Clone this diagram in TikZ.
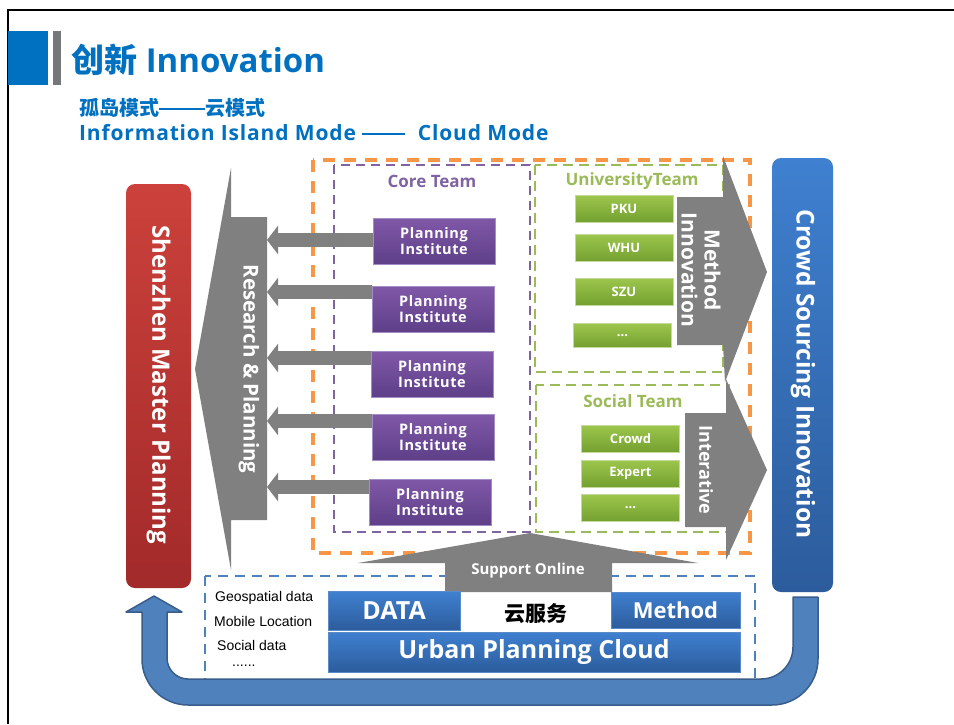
\documentclass[tikz,border=0pt]{standalone}
\usepackage{fontspec}
\setmainfont{Open Sans}
\newfontfamily\cjk{Noto Sans CJK SC}
\newfontfamily\arial{Liberation Sans}
\usetikzlibrary{arrows.meta,calc,shadings}
\definecolor{tblue}{HTML}{0070C0}
\definecolor{tgray}{HTML}{75787B}
\definecolor{redtop}{HTML}{CC413B}
\definecolor{redbot}{HTML}{A22A2A}
\definecolor{ptop}{HTML}{8058A8}
\definecolor{pbot}{HTML}{5E3F88}
\definecolor{pedge}{HTML}{A48CC4}
\definecolor{gtop}{HTML}{9CC64C}
\definecolor{gbot}{HTML}{74A030}
\definecolor{gedge}{HTML}{C4D99B}
\definecolor{btop}{HTML}{3F80D0}
\definecolor{bbot}{HTML}{2C5C9C}
\definecolor{bedge}{HTML}{5A8AC8}
\definecolor{arrgray}{HTML}{808080}
\definecolor{ufill}{HTML}{4F81BD}
\definecolor{uedge}{HTML}{385D8A}
\definecolor{orangeD}{HTML}{F79646}
\definecolor{greenD}{HTML}{9BBB59}
\definecolor{purpleD}{HTML}{8064A2}
\definecolor{blueD}{HTML}{4F81BD}
\newcommand{\longdash}[1]{\rule[0.28em]{#1}{2.2pt}}
\tikzset{
  pibox/.style={rectangle, minimum width=122pt, minimum height=46pt, inner sep=0pt,
    top color=ptop, bottom color=pbot, draw=pedge, line width=1pt, text=white,
    align=center, font=\bfseries\fontsize{14.5}{17}\selectfont\addfontfeature{LetterSpace=4}},
  gbtn/.style={rectangle, minimum width=98pt, minimum height=27pt, inner sep=0pt,
    top color=gtop, bottom color=gbot, draw=gedge, line width=1pt, text=white,
    font=\bfseries\fontsize{13}{15}\selectfont},
  bbox/.style={rectangle, inner sep=0pt, top color=btop, bottom color=bbot,
    draw=bedge, line width=1pt, text=white},
  grayshape/.style={fill=arrgray, draw=none},
  piarrow/.style={draw=arrgray, line width=14.5pt, -{Triangle[width=28pt,length=11pt]}},
  teamlbl/.style={font=\bfseries\fontsize{17}{19}\selectfont},
  datalbl/.style={anchor=west, font=\arial\fontsize{14}{16}\selectfont, inner sep=0pt},
  whitebig/.style={text=white, font=\bfseries\fontsize{22}{26}\selectfont, inner sep=0pt},
}
\begin{document}
\begin{tikzpicture}[x=1pt,y=-1pt]
\useasboundingbox (0,0) rectangle (954,724);
\fill[white] (0,0) rectangle (954,724);
% frame
\draw[line width=2pt, black] (8,724) -- (8,10) -- (954,10);
% header
\fill[tblue] (8,31) rectangle (48,85);
\fill[tgray] (53,31) rectangle (61,85);
\node[anchor=west, text=tblue, inner sep=0pt, font=\bfseries\fontsize{33}{36}\selectfont] (title) at (71,60) {{\cjk\bfseries 创新} Innovation};
\node[anchor=west, text=tblue, inner sep=0pt, font=\cjk\bfseries\fontsize{20}{22}\selectfont] (sub1) at (79,108) {孤岛模式\longdash{46pt}云模式};
\node[anchor=west, text=tblue, inner sep=0pt, font=\bfseries\fontsize{21}{23}\selectfont\addfontfeature{LetterSpace=4}] (sub2) at (79,133) {Information Island Mode \longdash{43pt}\ \ Cloud Mode};

% dashed boxes
\draw[orangeD, line width=3.5pt, dash pattern=on 12pt off 9pt] (313,160) rectangle (750,553);
\draw[purpleD, line width=2.5pt, dash pattern=on 9pt off 6pt] (334,165) rectangle (530,532);
\draw[greenD, line width=2.5pt, dash pattern=on 10pt off 6pt] (535,165) rectangle (723,372);
\draw[greenD, line width=2.5pt, dash pattern=on 10pt off 6pt] (536,385) rectangle (729,532);
\node[teamlbl, text=purpleD] (core) at (432,181) {Core Team};
\node[teamlbl, text=greenD] (uni) at (632,181) {UniversityTeam};
\node[teamlbl, text=greenD] (soc) at (633,401) {Social Team};

% red box
\node[rectangle, rounded corners=9pt, top color=redtop, bottom color=redbot, draw=none,
  minimum width=65pt, minimum height=404pt, inner sep=0pt] (szmp) at (158.5,386) {};
\node[rotate=-90, whitebig, font=\bfseries\fontsize{24}{26}\selectfont] (szmpt) at (158.5,385) {Shenzhen Master Planning};

% blue box
\node[rectangle, rounded corners=9pt, top color=btop, bottom color=bbot, draw=none,
  minimum width=61pt, minimum height=434pt, inner sep=0pt] (csi) at (802.5,375) {};
\node[rotate=-90, whitebig, font=\bfseries\fontsize{24.5}{26}\selectfont] (csit) at (803,374) {Crowd Sourcing Innovation};

% research arrow
\fill[grayshape] (231,168) -- (231,217) -- (267,217) -- (267,520) -- (231,520) -- (231,570) -- (195,369) -- cycle;
\node[rotate=-90, text=white, inner sep=0pt, font=\bfseries\fontsize{20.5}{22}\selectfont] (rp) at (249,369) {Research \& Planning};

% planning institute boxes
\node[pibox] (pi1) at (434,241) {Planning\\[-1pt]Institute};
\node[pibox] (pi2) at (433,309) {Planning\\[-1pt]Institute};
\node[pibox] (pi3) at (432,374) {Planning\\[-1pt]Institute};
\node[pibox] (pi4) at (433,437) {Planning\\[-1pt]Institute};
\node[pibox] (pi5) at (430,502) {Planning\\[-1pt]Institute};
\coordinate (r1) at (267,240);
\coordinate (r2) at (267,292);
\coordinate (r3) at (267,358);
\coordinate (r4) at (267,421);
\coordinate (r5) at (267,487);
\draw[piarrow] (pi1.west |- r1) -- (r1);
\draw[piarrow] (pi2.west |- r2) -- (r2);
\draw[piarrow] (pi3.west |- r3) -- (r3);
\draw[piarrow] (pi4.west |- r4) -- (r4);
\draw[piarrow] (pi5.west |- r5) -- (r5);

% university buttons
\node[gbtn] (pku) at (624,208.5) {PKU};
\node[gbtn] (whu) at (624,248) {WHU};
\node[gbtn] (szu) at (624,291.5) {SZU};
\node[gbtn, minimum height=24pt] (ud) at (622.5,335.5) {...};
% social buttons
\node[gbtn] (crowd) at (630.5,438.5) {Crowd};
\node[gbtn] (expert) at (630.5,473.5) {Expert};
\node[gbtn] (sd) at (630.5,508) {...};

% method innovation arrow
\fill[grayshape] (677,197) -- (723,197) -- (723,156) -- (767,272) -- (725,382) -- (723,345) -- (677,345) -- cycle;
\node[rotate=-90, text=white, inner sep=0pt, align=center, font=\bfseries\fontsize{21}{23}\selectfont] (mi) at (701,270) {Method\\Innovation};
% interative arrow
\fill[grayshape] (685,413) -- (726,413) -- (726,379) -- (767,470) -- (726,560) -- (726,527) -- (685,527) -- cycle;
\node[rotate=-90, text=white, inner sep=0pt, font=\bfseries\fontsize{18}{20}\selectfont] (ia) at (706,470) {Interative};

% cloud dashed box
\draw[blueD, line width=2pt, dash pattern=on 10pt off 7pt] (205,576) rectangle (755,692);
% support online arrow
\fill[grayshape] (530,533) -- (698,563) -- (612,563) -- (612,592) -- (445,592) -- (445,563) -- (358,563) -- cycle;
\node[text=white, inner sep=0pt, font=\bfseries\fontsize{15}{17}\selectfont] (so) at (528,571) {Support Online};

% data labels
\node[datalbl] (geo) at (215,598) {Geospatial data};
\node[datalbl] (mob) at (214,621) {Mobile Location};
\node[datalbl] (socd) at (217,645) {Social data};
\node[datalbl] (dots) at (232,666) {......};

% cloud boxes
\node[bbox, minimum width=132pt, minimum height=39pt, font=\bfseries\fontsize{25}{28}\selectfont] (data) at (394,611) {DATA};
\node[bbox, minimum width=129pt, minimum height=36pt, font=\bfseries\fontsize{22}{25}\selectfont] (meth) at (675.5,610) {Method};
\node[bbox, minimum width=412pt, minimum height=40pt, font=\bfseries\fontsize{25}{28}\selectfont] (upc) at (534,652) {Urban Planning Cloud};
\node[inner sep=0pt, font=\cjk\bfseries\fontsize{21}{24}\selectfont] (yfw) at (536,614) {云服务};

% U arrow
\draw[fill=ufill, draw=uedge, line width=1.5pt, line join=round]
  (793,597) -- (818,597) -- (818,659) arc[start angle=0, end angle=90, radius=46]
  -- (188,705) arc[start angle=90, end angle=180, radius=46]
  -- (142,612) -- (126,612) -- (154,596) -- (182,612) -- (167,612) -- (167,658)
  arc[start angle=180, end angle=90, radius=21]
  -- (761,679) arc[start angle=90, end angle=0, radius=32]
  -- cycle;
\end{tikzpicture}
\end{document}
